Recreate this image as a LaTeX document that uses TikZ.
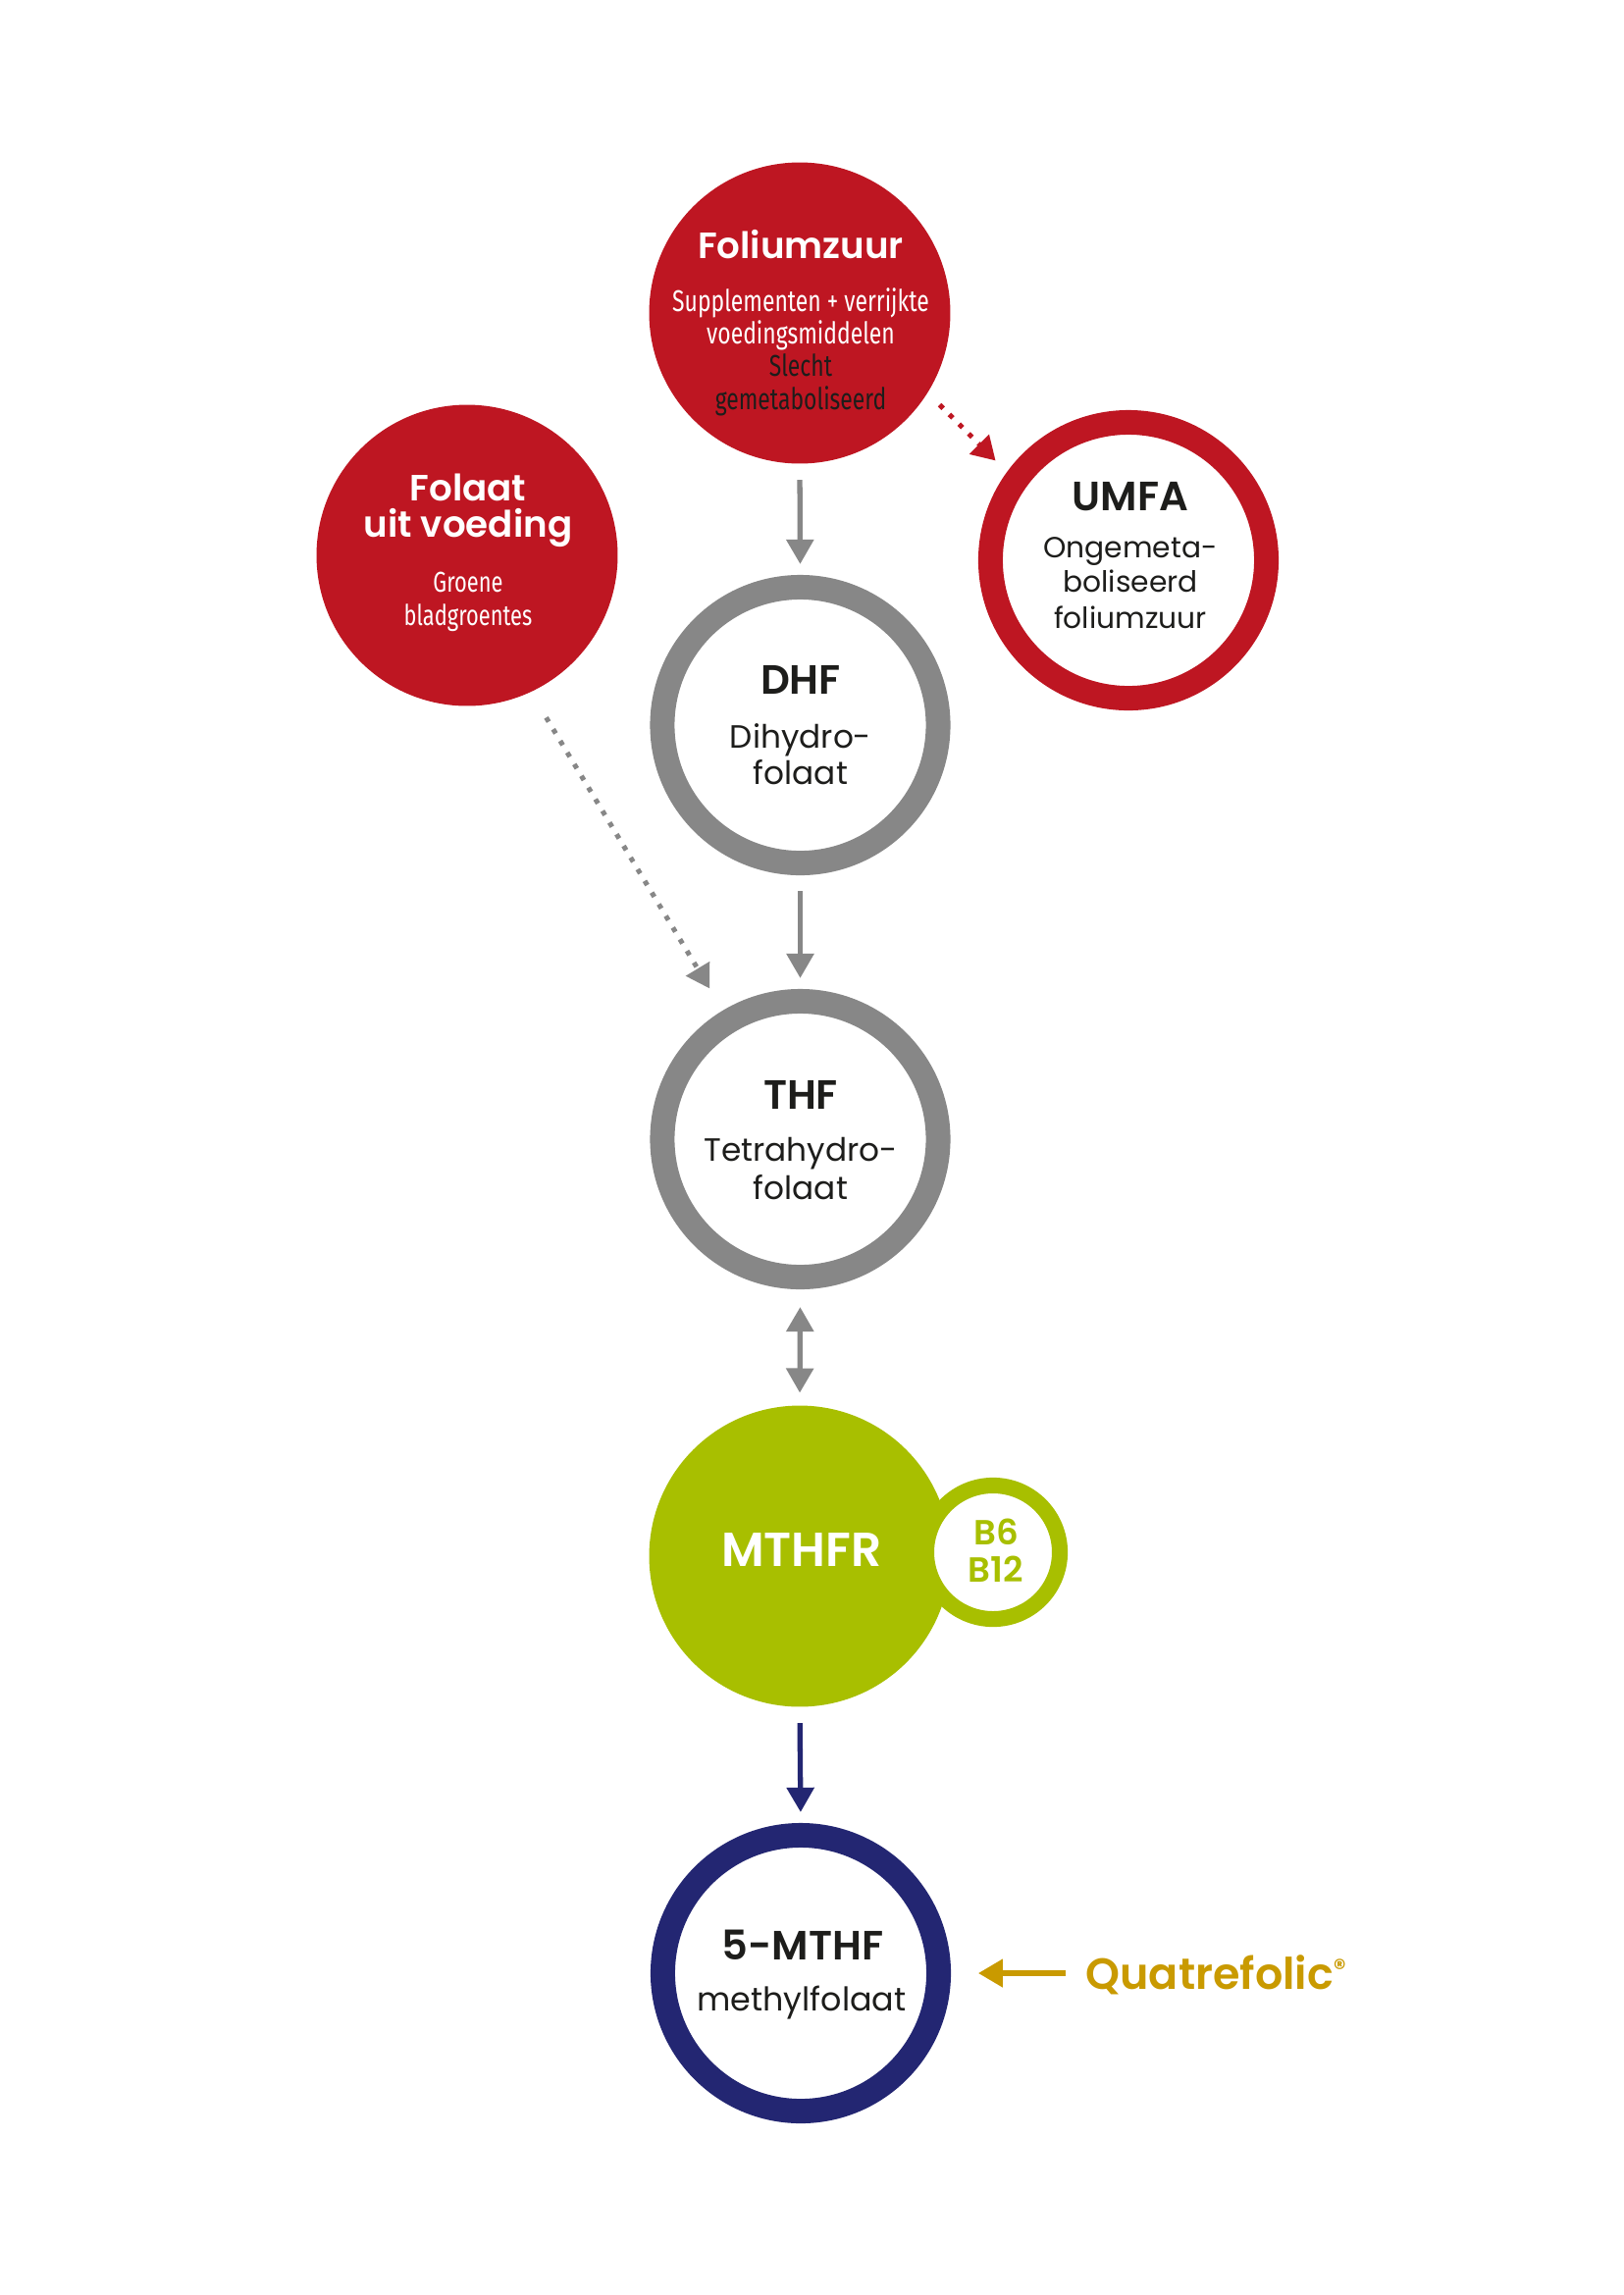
\documentclass[tikz,border=0pt]{standalone}
\usepackage{fontspec}
\setmainfont{Poppins}[BoldFont={Poppins SemiBold}]
\newfontfamily\cond[FakeStretch=0.75]{Fira Sans}
\usetikzlibrary{arrows.meta}
\definecolor{fred}{RGB}{190,22,34}
\definecolor{fgray}{RGB}{135,135,135}
\definecolor{fgreen}{RGB}{168,191,0}
\definecolor{fnavy}{RGB}{35,38,114}
\definecolor{fgold}{RGB}{201,154,0}
\definecolor{ftext}{RGB}{29,29,27}
\begin{document}
\begin{tikzpicture}[x=0.36pt,y=-0.36pt,
  disc/.style={circle,fill=#1,draw=none,inner sep=0,minimum size=110.5pt},
  ring/.style={circle,draw=#1,line width=9pt,fill=white,inner sep=0,minimum size=101.2pt},
  ln/.style={anchor=base,inner sep=0},
  bigtitle/.style={ln,font=\fontsize{13.4}{13.4}\selectfont\bfseries},
  darktitle/.style={ln,text=ftext,font=\fontsize{15}{15}\selectfont\bfseries},
  body/.style={ln,text=ftext,font=\fontsize{#1}{#1}\selectfont},
  condtext/.style={ln,font=\cond\fontsize{#1}{#1}\selectfont},
  arr/.style={draw=#1,line width=1.9pt,-{Triangle[length=9pt,width=9.8pt]},shorten <=5.8pt,shorten >=4pt},
  dotarr/.style={draw=#1,line width=1.8pt,dash pattern=on 1.8pt off 3.2pt,
    -{Triangle[length=8.5pt,width=9.8pt]}}
]
\fill[white] (0,0) rectangle (1654,2339);
\useasboundingbox (0,0) rectangle (1654,2339);

% circles
\node[disc=fred] (fol) at (815,319) {};
\node[disc=fred] (folaat) at (476,566) {};
\node[ring=fred] (umfa) at (1150,571) {};
\node[ring=fgray] (dhf) at (815.5,739) {};
\node[ring=fgray] (thf) at (815.5,1161) {};
\node[disc=fgreen] (mthfr) at (815,1586) {};
\node[circle,draw=fgreen,line width=5.8pt,fill=white,inner sep=0,minimum size=49pt] (vit) at (1012,1582) {};
\node[ring=fnavy] (mthf) at (816,2011) {};

% texts
\node[bigtitle,text=white] (folT) at (816,263) {Foliumzuur};
\node[condtext=11,text=white] (folA) at (816,317) {Supplementen + verrijkte};
\node[condtext=11,text=white] (folB) at (816,350) {voedingsmiddelen};
\node[condtext=11,text=ftext] (folC) at (816,383) {Slecht};
\node[condtext=11,text=ftext] (folD) at (816,417) {gemetaboliseerd};

\node[bigtitle,text=white] (folaatT) at (477,510) {Folaat};
\node[bigtitle,text=white] (folaatU) at (477,547) {uit voeding};
\node[condtext=10.5,text=white] (folaatA) at (477,603) {Groene};
\node[condtext=10.5,text=white] (folaatB) at (477,637) {bladgroentes};

\node[darktitle] (umfaT) at (1152,520) {UMFA};
\node[body=10.7] (umfaA) at (1152,568) {Ongemeta-};
\node[body=10.7] (umfaB) at (1152,603) {boliseerd};
\node[body=10.7] (umfaC) at (1152,640) {foliumzuur};

\node[darktitle] (dhfT) at (816,707) {DHF};
\node[body=11.8] (dhfA) at (816,762) {Dihydro-};
\node[body=11.8] (dhfB) at (816,799) {folaat};

\node[darktitle] (thfT) at (816,1130) {THF};
\node[body=11.8] (thfA) at (816,1183) {Tetrahydro-};
\node[body=11.8] (thfB) at (816,1222) {folaat};

\node[ln,text=white,font=\fontsize{17.5}{17.5}\selectfont\bfseries] (mthfrT) at (817,1596) {MTHFR};
\node[ln,text=fgreen,font=\fontsize{12.8}{12.8}\selectfont\bfseries] (b6) at (1015,1574) {B6};
\node[ln,text=fgreen,font=\fontsize{12.8}{12.8}\selectfont\bfseries] (b12) at (1015,1612) {B12};

\node[darktitle] (mthfT) at (818,1997) {5-MTHF};
\node[body=12] (mthfA) at (817,2049) {methylfolaat};

\node[ln,anchor=base west,text=fgold,font=\fontsize{16}{16}\selectfont\bfseries] (quat) at (1106,2027)
  {Quatrefolic{\fontsize{9}{9}\selectfont\raisebox{4.6pt}{®}}};

% connectors
\draw[arr=fgray] (fol.south) -- (dhf.north);
\draw[arr=fgray] (dhf.south) -- (thf.north);
\draw[draw=fgray,line width=1.9pt,{Triangle[length=9pt,width=9.8pt]}-{Triangle[length=9pt,width=9.8pt]},shorten <=6.5pt,shorten >=4.5pt] (thf.south) -- (mthfr.north);
\draw[arr=fnavy] (mthfr.south) -- (mthf.north);
\draw[dotarr=fred,shorten <=6.1pt,shorten >=5.9pt] (fol.-32.3) -- (umfa.144.3);
\draw[dotarr=fgray,shorten <=10.8pt,shorten >=9.4pt] (folaat.-65) -- (thf.121.6);
\draw[draw=fgold,line width=2.3pt,-{Triangle[length=9pt,width=9.8pt]},shorten >=10pt]
  ([xshift=-7.2pt]quat.west |- mthf.east) -- (mthf.east);
\end{tikzpicture}
\end{document}
